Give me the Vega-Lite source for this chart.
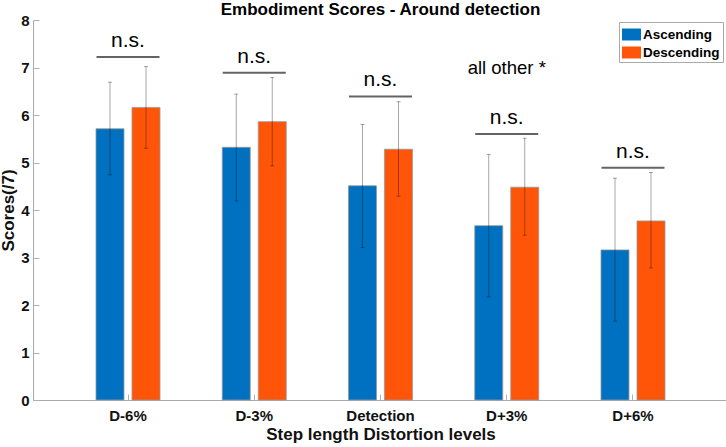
{
  "$schema": "https://vega.github.io/schema/vega-lite/v6.json",
  "width": 695,
  "height": 380,
  "autosize": {"type": "none"},
  "padding": {"left": 33, "top": 20, "right": 0, "bottom": 47},
  "config": {
    "view": {"stroke": null},
    "font": "Liberation Sans",
    "legend": {
      "orient": "none",
      "legendX": 586,
      "legendY": 2,
      "strokeColor": "#aaaaaa",
      "fillColor": "#ffffff",
      "padding": 3,
      "symbolType": "M-1,-0.63H1V0.63H-1Z",
      "symbolSize": 361,
      "symbolStrokeWidth": 0,
      "labelFont": "Liberation Sans",
      "labelFontSize": 13.5,
      "labelFontWeight": "bold",
      "labelColor": "#000000",
      "labelOffset": 2,
      "rowPadding": 2
    }
  },
  "title": {
    "text": "Embodiment Scores - Around detection",
    "font": "Liberation Sans",
    "fontSize": 17,
    "fontWeight": "bold",
    "color": "#000000",
    "anchor": "middle",
    "frame": "group",
    "baseline": "alphabetic",
    "offset": 0,
    "dy": 19
  },
  "datasets": {
    "scores": [
      {"level": "D-6%", "order": "Ascending", "mean": 5.71, "lo": 4.74, "hi": 6.69},
      {"level": "D-6%", "order": "Descending", "mean": 6.16, "lo": 5.30, "hi": 7.02},
      {"level": "D-3%", "order": "Ascending", "mean": 5.32, "lo": 4.19, "hi": 6.44},
      {"level": "D-3%", "order": "Descending", "mean": 5.86, "lo": 4.93, "hi": 6.79},
      {"level": "Detection", "order": "Ascending", "mean": 4.51, "lo": 3.21, "hi": 5.80},
      {"level": "Detection", "order": "Descending", "mean": 5.28, "lo": 4.29, "hi": 6.28},
      {"level": "D+3%", "order": "Ascending", "mean": 3.67, "lo": 2.17, "hi": 5.17},
      {"level": "D+3%", "order": "Descending", "mean": 4.48, "lo": 3.47, "hi": 5.51},
      {"level": "D+6%", "order": "Ascending", "mean": 3.16, "lo": 1.66, "hi": 4.67},
      {"level": "D+6%", "order": "Descending", "mean": 3.77, "lo": 2.78, "hi": 4.79}
    ],
    "sigLines": [
      {"level": "D-6%", "y": 7.22},
      {"level": "D-3%", "y": 6.89},
      {"level": "Detection", "y": 6.39},
      {"level": "D+3%", "y": 5.60},
      {"level": "D+6%", "y": 4.89}
    ],
    "sigLabels": [
      {"level": "D-6%", "y": 7.44, "label": "n.s.", "size": 21},
      {"level": "D-3%", "y": 7.09, "label": "n.s.", "size": 21},
      {"level": "Detection", "y": 6.61, "label": "n.s.", "size": 21},
      {"level": "D+3%", "y": 5.81, "label": "n.s.", "size": 21},
      {"level": "D+6%", "y": 5.10, "label": "n.s.", "size": 21},
      {"level": "D+3%", "y": 6.86, "label": "all other *", "size": 18.5}
    ]
  },
  "data": {"name": "scores"},
  "encoding": {
    "x": {
      "field": "level",
      "type": "nominal",
      "sort": ["D-6%", "D-3%", "Detection", "D+3%", "D+6%"],
      "scale": {"paddingInner": 0.493, "paddingOuter": 0.499},
      "title": "Step length Distortion levels",
      "axis": {
        "labelAngle": 0,
        "labelFont": "Liberation Sans",
        "labelFontSize": 15,
        "labelFontWeight": "bold",
        "labelColor": "#111111",
        "labelPadding": 14,
        "tickSize": -6,
        "tickColor": "#b0b0b0",
        "domainColor": "#aaaaaa",
        "titleFont": "Liberation Sans",
        "titleFontSize": 17,
        "titleFontWeight": "bold",
        "titleColor": "#111111",
        "titlePadding": 3
      }
    }
  },
  "layer": [
    {
      "mark": {"type": "bar", "stroke": "#999999", "strokeWidth": 0.8},
      "encoding": {
        "xOffset": {
          "field": "order",
          "type": "nominal",
          "scale": {"paddingInner": 0.222, "paddingOuter": 0}
        },
        "y": {
          "field": "mean",
          "type": "quantitative",
          "scale": {"domain": [0, 8]},
          "axis": {
            "values": [0, 1, 2, 3, 4, 5, 6, 7, 8],
            "grid": false,
            "tickSize": -6,
            "tickColor": "#b0b0b0",
            "domainColor": "#aaaaaa",
            "labelFont": "Liberation Sans",
            "labelFontSize": 15,
            "labelFontWeight": "bold",
            "labelColor": "#111111",
            "labelPadding": 10,
            "titleFont": "Liberation Sans",
            "titleFontSize": 17,
            "titleFontWeight": "bold",
            "titleColor": "#111111",
            "titlePadding": 3
          },
          "title": "Scores(/7)"
        },
        "color": {
          "field": "order",
          "type": "nominal",
          "scale": {"domain": ["Ascending", "Descending"], "range": ["#0070C0", "#FE5508"]},
          "legend": {"title": null}
        }
      }
    },
    {
      "mark": {"type": "rule", "color": "#000000", "opacity": 0.35, "strokeWidth": 1},
      "encoding": {
        "xOffset": {"field": "order", "type": "nominal", "scale": {"paddingInner": 0.222, "paddingOuter": 0}},
        "y": {"field": "lo", "type": "quantitative"},
        "y2": {"field": "hi"}
      }
    },
    {
      "mark": {"type": "tick", "color": "#000000", "opacity": 0.35, "size": 4, "thickness": 1},
      "encoding": {
        "xOffset": {"field": "order", "type": "nominal", "scale": {"paddingInner": 0.222, "paddingOuter": 0}},
        "y": {"field": "lo", "type": "quantitative"}
      }
    },
    {
      "mark": {"type": "tick", "color": "#000000", "opacity": 0.35, "size": 4, "thickness": 1},
      "encoding": {
        "xOffset": {"field": "order", "type": "nominal", "scale": {"paddingInner": 0.222, "paddingOuter": 0}},
        "y": {"field": "hi", "type": "quantitative"}
      }
    },
    {
      "data": {"name": "sigLines"},
      "mark": {"type": "tick", "color": "#222222", "size": 63, "thickness": 2},
      "encoding": {
        "y": {"field": "y", "type": "quantitative"}
      }
    },
    {
      "data": {"name": "sigLabels"},
      "mark": {"type": "text", "font": "Liberation Sans", "color": "#000000", "baseline": "alphabetic", "align": "center"},
      "encoding": {
        "y": {"field": "y", "type": "quantitative"},
        "text": {"field": "label"},
        "size": {"field": "size", "type": "quantitative", "scale": null}
      }
    }
  ]
}
